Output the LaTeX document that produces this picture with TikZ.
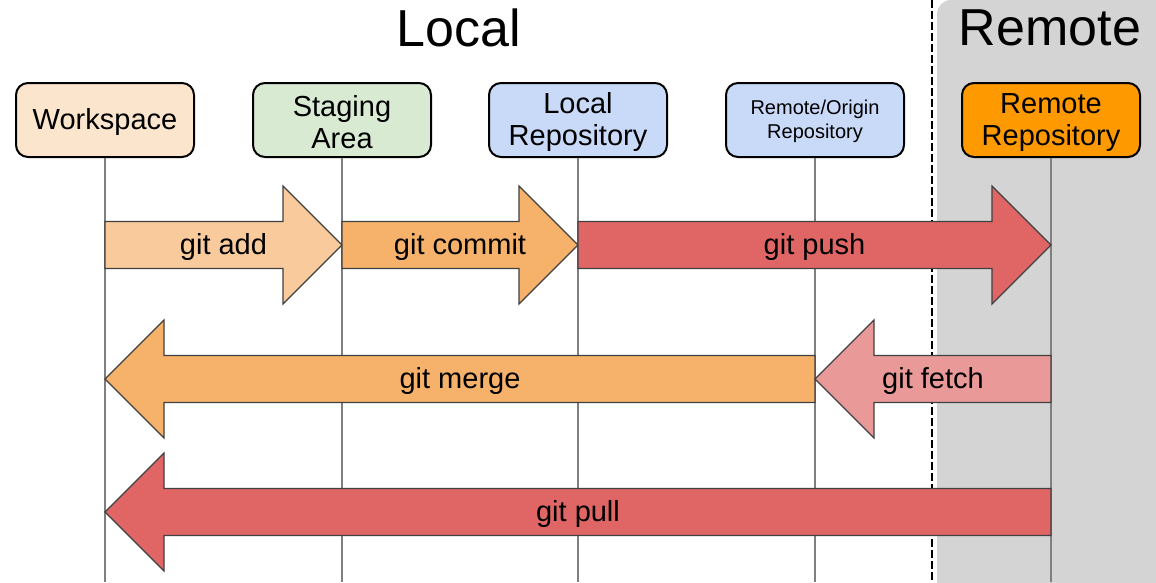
\documentclass[tikz,border=0pt]{standalone}
\usepackage{fontspec}
\setmainfont{Liberation Sans}
\usetikzlibrary{calc}
\definecolor{wsc}{HTML}{FCE5CD}
\definecolor{stc}{HTML}{D9EAD3}
\definecolor{lrc}{HTML}{C9DAF8}
\definecolor{rrc}{HTML}{FF9900}
\definecolor{addc}{HTML}{F9CB9C}
\definecolor{comc}{HTML}{F6B26B}
\definecolor{pushc}{HTML}{E06666}
\definecolor{fetchc}{HTML}{EA9999}
\definecolor{bgc}{HTML}{D4D4D4}
\definecolor{lifec}{HTML}{7F7F7F}
\definecolor{edgec}{HTML}{404040}
\newcommand{\tstrut}{\rule{0pt}{25pt}}
% #1 fill, #2 from node, #3 to node, #4 y, #5 label name, #6 text
\newcommand{\blockarr}[6]{%
  \coordinate (#5s) at (#2.south |- 0,#4);
  \coordinate (#5t) at (#3.south |- 0,#4);
  \coordinate (#5b) at ($(#5t)!59pt!(#5s)$);
  \draw[blk, fill=#1] ($(#5s)+(0,-23.5)$) -- ($(#5b)+(0,-23.5)$) -- ($(#5b)+(0,-59)$)
     -- (#5t) -- ($(#5b)+(0,59)$) -- ($(#5b)+(0,23.5)$) -- ($(#5s)+(0,23.5)$) -- cycle;
  \node[lbl] (#5) at ($(#5s)!0.5!(#5t)$) {#6};
}
\begin{document}
\begin{tikzpicture}[x=1pt,y=-1pt,
  box/.style={draw=black, line width=2pt, rounded corners=12pt, minimum width=178pt,
    minimum height=74pt, inner sep=0pt, align=center,
    font=\fontsize{29pt}{32pt}\selectfont},
  smallbox/.style={box, font=\fontsize{20pt}{24pt}\selectfont},
  title/.style={font=\fontsize{52pt}{56pt}\selectfont, inner sep=0pt},
  life/.style={draw=lifec, line width=2pt},
  blk/.style={draw=edgec, line width=1.2pt, line join=miter},
  lbl/.style={font=\fontsize{29pt}{32pt}\selectfont, inner sep=0pt, yshift=-2pt},
  sep/.style={draw=black, line width=2.4pt, dash pattern=on 8pt off 3pt}]
\useasboundingbox (0,0) rectangle (1156,582);
% remote background
\fill[bgc, rounded corners=14pt] (937,620) rectangle (1200,0);
\coordinate (septop) at (932,0);
\coordinate (sepbot) at (932,582);
\draw[sep] (septop) -- (sepbot);
% titles
\node[title] (tlocal) at (459,28) {Local};
\node[title] (tremote) at (1050,28) {Remote};
% boxes
\node[box, fill=wsc] (ws) at (105,120) {\tstrut Workspace};
\node[box, fill=stc] (st) at (342,120) {\tstrut Staging\\Area};
\node[box, fill=lrc] (lr) at (578,120) {\tstrut Local\\Repository};
\node[smallbox, fill=lrc] (ro) at (815,120) {\rule{0pt}{18pt}Remote/Origin\\Repository};
\node[box, fill=rrc] (rr) at (1051,120) {\tstrut Remote\\Repository};
% lifelines
\foreach \n in {ws,st,lr,ro,rr}{
  \coordinate (\n end) at (\n.south |- 0,582);
  \draw[life] (\n.south) -- (\n end);
}
% arrows
\blockarr{addc}{ws}{st}{245}{add}{git add}
\blockarr{comc}{st}{lr}{245}{commit}{git commit}
\blockarr{pushc}{lr}{rr}{245}{push}{git push}
\blockarr{comc}{ro}{ws}{379}{merge}{git merge}
\blockarr{fetchc}{rr}{ro}{379}{fetch}{git fetch}
\blockarr{pushc}{rr}{ws}{512}{pull}{git pull}
\end{tikzpicture}
\end{document}
